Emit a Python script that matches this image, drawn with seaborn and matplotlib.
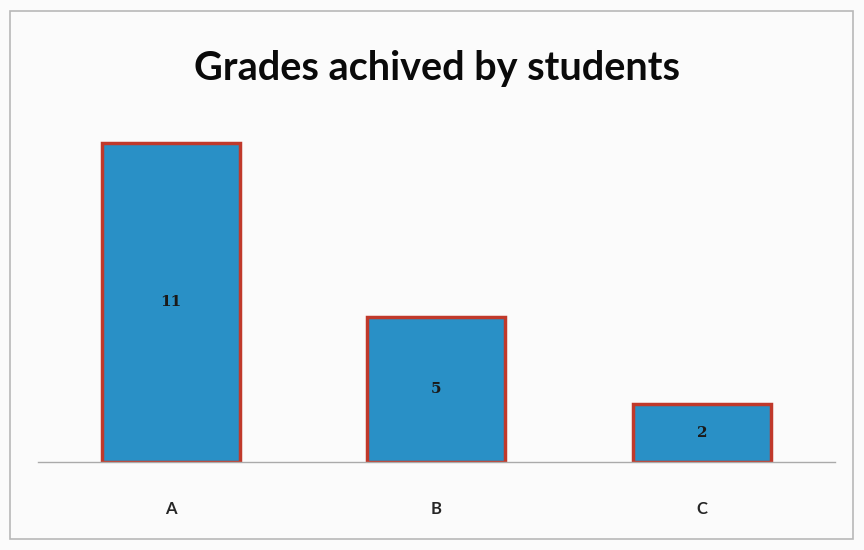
import matplotlib
matplotlib.use('Agg')
import matplotlib.pyplot as plt
import seaborn as sns
import pandas as pd
from matplotlib.patches import Rectangle

grades = ['A', 'B', 'C']
students = [11, 5, 2]
title = 'Grades achived by students'

df = pd.DataFrame({'grade': grades, 'count': students})

sns.set_style('white')
plt.rcParams['font.family'] = ['Lato', 'DejaVu Sans']

fig = plt.figure(figsize=(8.64, 5.5), dpi=100)
fig.patch.set_facecolor('#fbfbfb')

# frame of the slide
fig.patches.append(Rectangle((0.012, 0.02), 0.975, 0.96, transform=fig.transFigure,
                             fill=False, edgecolor='#b8b8b8', linewidth=1.2))

ax = fig.add_axes([0.044, 0.16, 0.922, 0.66])
ax.set_facecolor('#fbfbfb')
sns.barplot(data=df, x='grade', y='count', ax=ax, color='#2990c6',
            width=0.52, edgecolor='#c0392b', linewidth=2.5, saturation=1)

for p, v in zip(ax.patches, students):
    ax.text(p.get_x() + p.get_width() / 2, p.get_height() / 2, str(v),
            ha='center', va='center', fontsize=11, fontweight='bold', color='#1a1a1a',
            family=['DejaVu Serif'])

ax.set_xlim(-0.5, 2.5)
ax.set_ylim(0, 12.5)
ax.set_xlabel('')
ax.set_ylabel('')
ax.set_yticks([])
ax.tick_params(axis='x', length=0, pad=28, labelsize=12)
for lbl in ax.get_xticklabels():
    lbl.set_fontweight('bold')
for s in ['top', 'right', 'left']:
    ax.spines[s].set_visible(False)
ax.spines['bottom'].set_color('#aaaaaa')
ax.spines['bottom'].set_linewidth(1)

fig.text(0.506, 0.876, title, ha='center', va='center', fontsize=28.5,
         fontweight='bold', color='#0a0a0a')

fig.savefig('out.png', dpi=100, facecolor=fig.get_facecolor())
